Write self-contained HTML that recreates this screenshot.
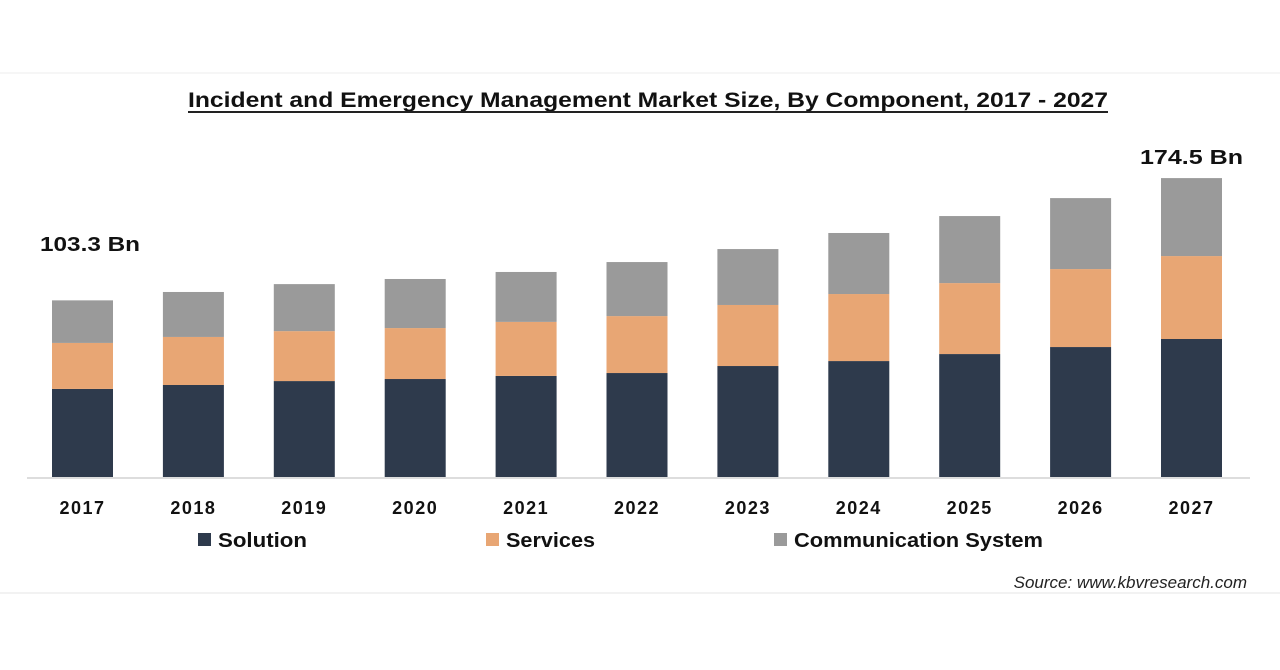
<!DOCTYPE html>
<html><head><meta charset="utf-8"><style>
html,body{margin:0;padding:0;background:#fff;}
svg{display:block;font-family:"Liberation Sans",sans-serif;}
</style></head><body>
<svg id="c" width="1280" height="670" viewBox="0 0 1280 670">
<line x1="0" y1="73" x2="1280" y2="73" stroke="#eee" stroke-width="1"/>
<line x1="0" y1="593" x2="1280" y2="593" stroke="#e6e6e6" stroke-width="1"/>
<text x="188" y="107" textLength="920" lengthAdjust="spacingAndGlyphs" font-size="21" font-weight="bold" fill="#111">Incident and Emergency Management Market Size, By Component, 2017 - 2027</text>
<line x1="188" y1="112" x2="1108" y2="112" stroke="#222" stroke-width="2"/>
<line x1="27" y1="478" x2="1250" y2="478" stroke="#ddd" stroke-width="2"/>
<g id="bars"></g>
<g id="xlabels"></g>
<text x="40" y="251" textLength="100" lengthAdjust="spacingAndGlyphs" font-size="20" font-weight="bold" fill="#111">103.3 Bn</text>
<text x="1140" y="164" textLength="103" lengthAdjust="spacingAndGlyphs" font-size="20" font-weight="bold" fill="#111">174.5 Bn</text>
<g>
<rect x="198" y="533" width="13" height="13" fill="#2e3a4c"/>
<text x="218" y="547" textLength="89" lengthAdjust="spacingAndGlyphs" font-size="20" font-weight="bold" fill="#111">Solution</text>
<rect x="486" y="533" width="13" height="13" fill="#e8a674"/>
<text x="506" y="547" textLength="89" lengthAdjust="spacingAndGlyphs" font-size="20" font-weight="bold" fill="#111">Services</text>
<rect x="774" y="533" width="13" height="13" fill="#9a9a9a"/>
<text x="794" y="547" textLength="249" lengthAdjust="spacingAndGlyphs" font-size="20" font-weight="bold" fill="#111">Communication System</text>
</g>
<text x="1247" y="588" text-anchor="end" font-size="17" font-style="italic" fill="#222">Source: www.kbvresearch.com</text>
</svg>
<script>
const years = ["2017","2018","2019","2020","2021","2022","2023","2024","2025","2026","2027"];
const solution = [51.5,53.8,56.1,57.3,59.1,60.8,64.9,67.8,71.9,76.0,80.7];
const services = [26.9,28.1,29.2,29.8,31.6,33.3,35.7,39.2,41.5,45.6,48.5];
const communication = [24.9,26.3,27.5,28.7,29.2,31.6,32.7,35.7,39.2,41.5,45.6];
const NS="http://www.w3.org/2000/svg";
const baseY=477, pxPer=1.71, x0=52, pitch=110.9, bw=61;
const y=v=>baseY-v*pxPer;
const xb=i=>x0+i*pitch;
const gB=document.getElementById('bars'), gX=document.getElementById('xlabels');
const series=[[solution,'#2e3a4c','solution'],[services,'#e8a674','services'],[communication,'#9a9a9a','communication']];
years.forEach((yr,i)=>{
  let acc=0;
  series.forEach(([arr,col,nm])=>{
    const r=document.createElementNS(NS,'rect');
    const top=y(acc+arr[i]), bot=y(acc);
    r.setAttribute('x',xb(i));r.setAttribute('y',top);
    r.setAttribute('width',bw);r.setAttribute('height',bot-top);
    r.setAttribute('fill',col);
    
    
    gB.appendChild(r);
    acc+=arr[i];
  });
  const t=document.createElementNS(NS,'text');
  t.setAttribute('x',xb(i)+bw/2);t.setAttribute('y',514);
  t.setAttribute('text-anchor','middle');t.setAttribute('font-size','18');
  t.setAttribute('font-weight','bold');t.setAttribute('fill','#111');
  t.setAttribute('letter-spacing','1.5');
  t.textContent=yr;
  
  
  gX.appendChild(t);
});
</script>
</body></html>
